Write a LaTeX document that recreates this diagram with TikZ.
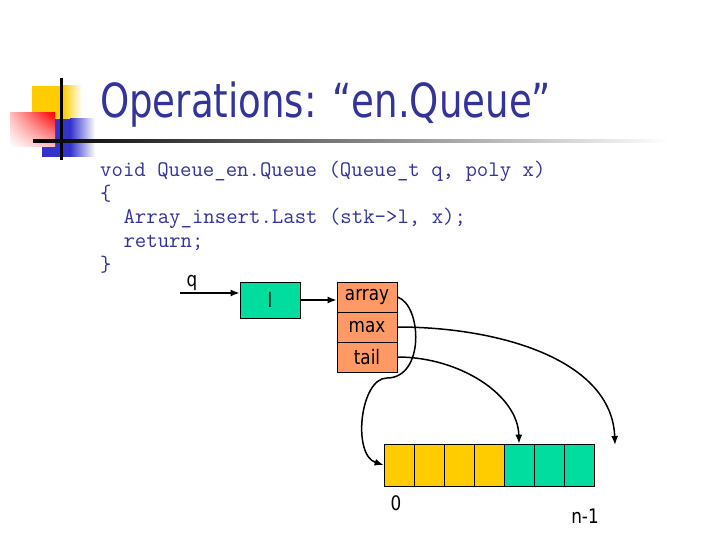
\documentclass[tikz,border=0pt]{standalone}
\usepackage{fontspec}
\newfontfamily\tah[FakeStretch=0.84]{DejaVu Sans}
\newfontfamily\tahtitle[FakeStretch=0.79]{DejaVu Sans}
\usetikzlibrary{arrows.meta,shadings}
\definecolor{titleblue}{RGB}{51,51,153}
\definecolor{cellgreen}{RGB}{0,221,158}
\definecolor{recorange}{RGB}{255,153,102}
\definecolor{cellyellow}{RGB}{255,204,0}
\definecolor{logoblue}{RGB}{51,51,204}
\begin{document}
\begin{tikzpicture}[x=1pt,y=-1pt,
  titletext/.style={font=\tahtitle\fontsize{47}{56}\selectfont, text=titleblue, inner sep=0, anchor=base west},
  codeline/.style={font=\ttfamily\fontsize{22.17}{26}\selectfont, text=titleblue, inner sep=0, anchor=base west},
  lbl/.style={font=\tah\fontsize{20}{24}\selectfont, inner sep=0},
  fieldbox/.style={draw, line width=0.75pt, fill=recorange, minimum width=60pt, minimum height=30pt, inner sep=0, font=\tah\fontsize{20}{24}\selectfont},
  cellbox/.style={draw, line width=0.75pt, minimum width=30pt, minimum height=42pt, inner sep=0},
  ptr/.style={line width=1.5pt, -{Latex[length=9pt,width=7pt]}},
]
\useasboundingbox (0,0) rectangle (720,540);
\fill[white] (0,0) rectangle (720,540);
% logo
\fill[cellyellow] (32,86) rectangle (63,120);
\shade[left color=cellyellow, right color=white] (63,86) rectangle (82,120);
\fill[logoblue] (42,119) rectangle (70,157);
\shade[left color=logoblue, right color=white] (70,119) rectangle (95,157);
\shade[upper right=red, upper left=red!25, lower right=red!25, lower left=white] (10,113) rectangle (55,147);
\fill[black] (60,78) rectangle (63,160);
\shade[left color=black, right color=white] (33,139.5) rectangle (670,142.5);
% title
\node[titletext] (title) at (100,118) {Operations: “en.Queue”};
% code
\node[codeline] (code1) at (100,176.7) {void Queue\_en.Queue (Queue\_t q, poly x)};
\node[codeline] (code2) at (100,200.3) {\{};
\node[codeline] (code3) at (123.3,224) {Array\_insert.Last (stk->l, x);};
\node[codeline] (code4) at (123.3,247.6) {return;};
\node[codeline] (code5) at (100,271.2) {\}};
% diagram
\node[lbl, anchor=base] (qlbl) at (192,286) {q};
\coordinate (qs) at (180,293);
\node[draw, line width=0.75pt, fill=cellgreen, minimum width=60pt, minimum height=36pt, inner sep=0, font=\tah\fontsize{20}{24}\selectfont] (lbox) at (270,300) {l};
\node[fieldbox] (arr) at (367,297) {array};
\node[fieldbox] (mx) at (367,327) {max};
\node[fieldbox] (tl) at (367,357) {tail};
\foreach \i in {0,1,2,3} {\node[cellbox, fill=cellyellow] (c\i) at (399+30*\i,465) {};}
\foreach \i in {4,5,6} {\node[cellbox, fill=cellgreen] (c\i) at (399+30*\i,465) {};}
\node[lbl] (zero) at (396,503) {0};
\node[lbl] (nm1) at (585,516) {n-1};
\coordinate (maxend) at (615,445);
\draw[ptr] (qs) -- (qs -| lbox.west);
\draw[ptr] (lbox.east) -- (lbox.east -| arr.west);
\draw[ptr] (arr.east) .. controls (422,305) and (425,378) .. (387,378) .. controls (360,378) and (352,455) .. (c0.west);
\draw[ptr] (mx.east) .. controls (500,327) and (612,360) .. (maxend);
\draw[ptr] (tl.east) .. controls (460,357) and (518,395) .. (c4.north);
\end{tikzpicture}
\end{document}
